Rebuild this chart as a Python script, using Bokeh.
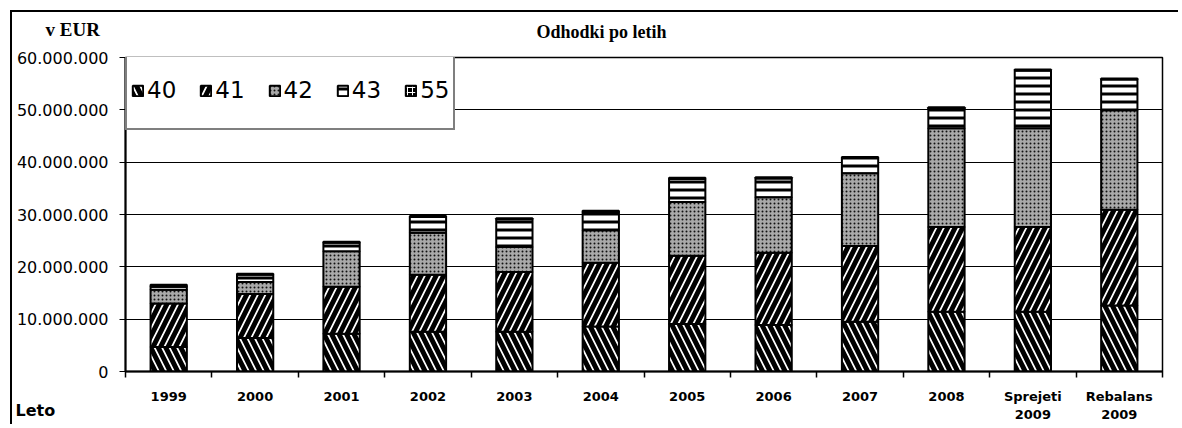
from bokeh.plotting import figure
from bokeh.models import (Range1d, FixedTicker, ColumnDataSource, Legend, Label, Title)
from bokeh.layouts import column
from bokeh.embed import file_html
from bokeh.resources import INLINE

# ---- data (values in millions of EUR) ----
categories = ["1999", "2000", "2001", "2002", "2003", "2004", "2005", "2006",
              "2007", "2008", "Sprejeti\n2009", "Rebalans\n2009"]
s40 = [4.7, 6.4, 7.2, 7.6, 7.6, 8.6, 9.1, 8.9, 9.5, 11.4, 11.4, 12.6]
s41 = [8.3, 8.4, 9.0, 10.9, 11.4, 12.2, 13.0, 13.8, 14.5, 16.2, 16.2, 18.3]
s42 = [2.6, 2.3, 6.8, 8.0, 4.8, 6.2, 10.3, 10.6, 13.9, 18.9, 18.9, 19.0]
s43 = [0.6, 1.4, 1.6, 3.0, 5.3, 3.5, 4.4, 3.6, 2.9, 3.8, 11.0, 5.9]
s55 = [0.4, 0.2, 0.2, 0.2, 0.2, 0.2, 0.2, 0.2, 0.2, 0.2, 0.2, 0.2]
series_names = ["40", "41", "42", "43", "55"]
y_ticks = [0, 10e6, 20e6, 30e6, 40e6, 50e6, 60e6]
y_tick_labels = ["0", "10.000.000", "20.000.000", "30.000.000",
                 "40.000.000", "50.000.000", "60.000.000"]
title_text = "Odhodki po letih"
y_unit_text = "v EUR"
x_name_text = "Leto"

idx = list(range(len(categories)))
data = {"x": idx}
for name, vals in zip(series_names, [s40, s41, s42, s43, s55]):
    data[name] = [v * 1e6 for v in vals]
src = ColumnDataSource(data)

W = 1166
TOP_H = 37
MAIN_H = 375

# ---- top strip: chart title and unit ----
top = figure(width=W, height=TOP_H, x_range=Range1d(0, 1), y_range=Range1d(0, 1),
             x_axis_type=None, y_axis_type=None, output_backend="svg",
             toolbar_location=None, min_border=0, outline_line_color=None,
             background_fill_color="white", border_fill_color="white")
top.grid.grid_line_color = None
top.add_layout(Label(x=33, y=20, x_units="screen", y_units="screen",
                     text=y_unit_text, text_font="Liberation Serif", text_font_style="bold",
                     text_font_size="19px", text_baseline="middle", text_align="left",
                     text_color="black"))
top.add_layout(Label(x=589, y=18, x_units="screen", y_units="screen",
                     text=title_text, text_font="Liberation Serif",
                     text_font_style="bold", text_font_size="18px",
                     text_baseline="middle", text_align="center", text_color="black"))

# ---- main chart ----
p = figure(width=W, height=MAIN_H, x_range=Range1d(-0.5, len(categories) - 0.5),
           y_range=Range1d(0, 60e6), output_backend="svg", toolbar_location=None,
           min_border_left=113, min_border_right=16, min_border_top=8,
           min_border_bottom=52, background_fill_color="white",
           border_fill_color="white")

for fig in (top, p):
    if hasattr(fig, "frame_align"):
        fig.frame_align = False

renderers = p.vbar_stack(
    series_names, x="x", width=0.42, source=src,
    fill_color=["white", "white", "#a9a9a9", "white", "black"],
    hatch_color=["black", "black", "#111111", "black", "white"],
    hatch_pattern=["left_diagonal_line", "right_diagonal_line", "dot",
                   "horizontal_line", "cross"],
    hatch_scale=[15, 15, 4, 8, 5],
    hatch_weight=[5, 5, 1.6, 3, 1],
    line_color="black", line_width=2,
)

# axes
p.xaxis.ticker = FixedTicker(ticks=idx, minor_ticks=[i - 0.5 for i in range(len(categories) + 1)])
p.xaxis.major_label_overrides = {i: c for i, c in zip(idx, categories)}
p.xaxis.major_tick_out = 0
p.xaxis.major_tick_in = 0
p.xaxis.minor_tick_out = 6
p.xaxis.minor_tick_in = 0
p.xaxis.minor_tick_line_color = "black"
p.xaxis.minor_tick_line_width = 1.5
p.xaxis.axis_line_width = 2
p.xaxis.major_label_text_font = "DejaVu Sans"
p.xaxis.major_label_text_font_style = "bold"
p.xaxis.major_label_text_font_size = "13px"
p.xaxis.major_label_text_color = "black"
p.xaxis.major_label_standoff = 11

p.yaxis.ticker = FixedTicker(ticks=y_ticks)
p.yaxis.major_label_overrides = {t: l for t, l in zip(y_ticks, y_tick_labels)}
p.yaxis.major_tick_out = 6
p.yaxis.major_tick_in = 0
p.yaxis.minor_tick_line_color = None
p.yaxis.axis_line_width = 2
p.yaxis.major_label_text_font = "DejaVu Sans"
p.yaxis.major_label_text_font_size = "16px"
p.yaxis.major_label_text_color = "black"
p.yaxis.major_label_standoff = 11

p.xgrid.grid_line_color = None
p.ygrid.grid_line_color = "black"
p.ygrid.grid_line_width = 1.2

p.outline_line_color = "black"
p.outline_line_width = 1.5

legend = Legend(items=[(n, [r]) for n, r in zip(series_names, renderers)],
                orientation="horizontal", location=(0, 241),
                glyph_width=13, glyph_height=13, label_height=68,
                label_standoff=3, spacing=23, padding=4,
                label_text_font="DejaVu Sans", label_text_font_size="23px",
                label_text_color="black",
                border_line_color="black", border_line_width=2,
                background_fill_color="white", background_fill_alpha=1.0)
p.add_layout(legend, "center")

# "Leto" below the axis, pulled up next to the category labels
p.add_layout(Title(text=x_name_text, align="left", offset=-110, vertical_align="top",
                   standoff=-48, text_font="DejaVu Sans", text_font_style="bold",
                   text_font_size="16px", text_color="black"), "below")

layout = column(top, p, spacing=0,
                styles={"border-left": "2px solid black", "border-top": "2px solid black"})
layout.margin = (10, 0, 0, 10)

open("out.html", "w").write(file_html(layout, INLINE))
